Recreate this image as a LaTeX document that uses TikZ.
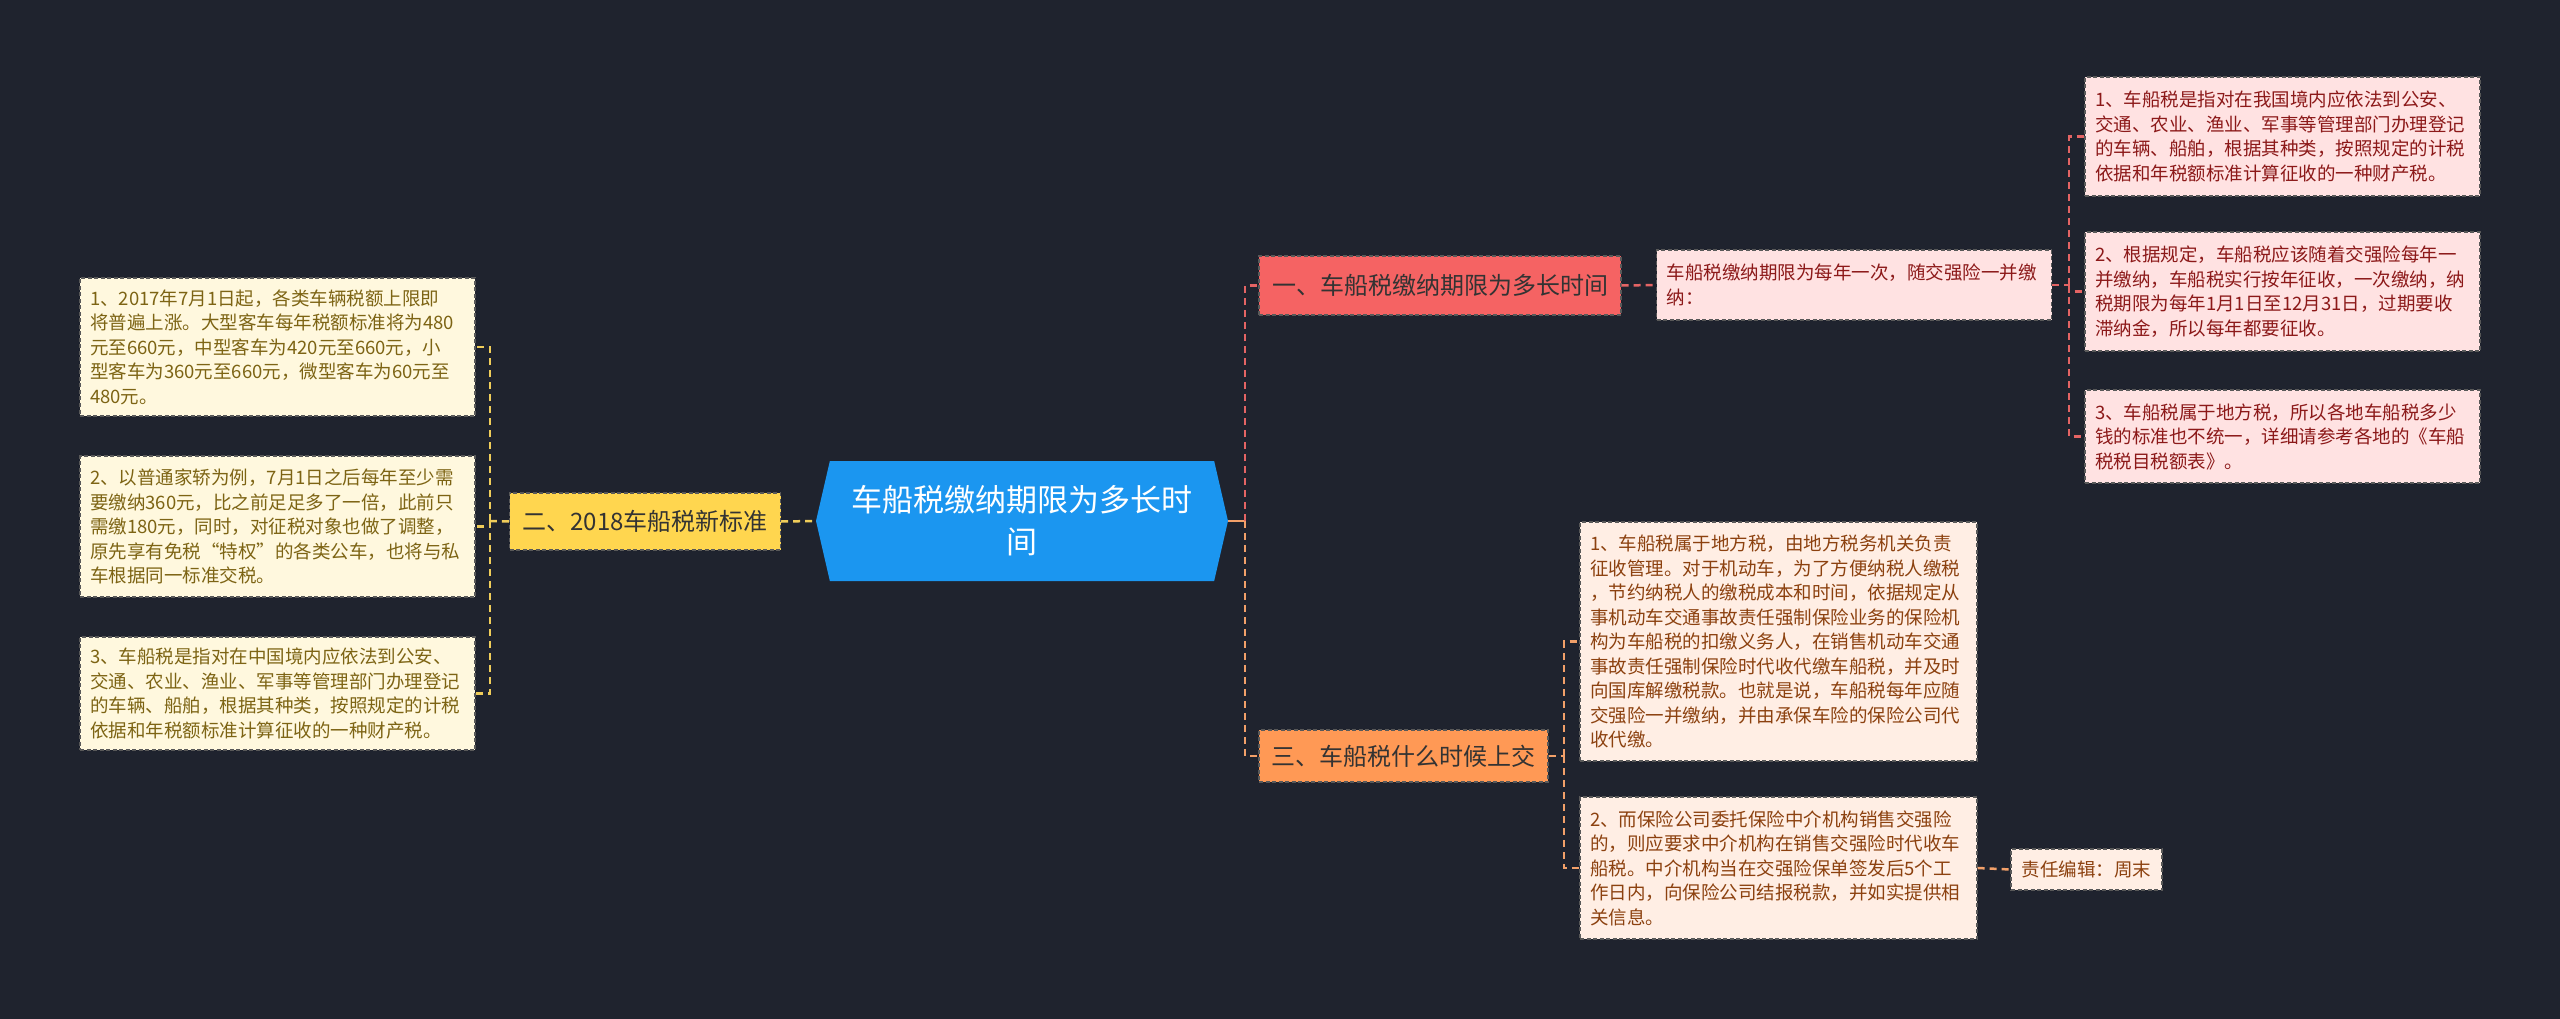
\documentclass[tikz,border=0pt]{standalone}
\usepackage{fontspec}
\setmainfont{Noto Sans CJK SC}
\usepackage{xcolor}
\usepackage{tikz}
\definecolor{bgdark}{RGB}{31,35,46}
\definecolor{centralblue}{RGB}{27,150,240}
\definecolor{topicyellow}{RGB}{255,214,79}
\definecolor{topicred}{RGB}{245,99,99}
\definecolor{topicorange}{RGB}{255,153,85}
\definecolor{leafcream}{RGB}{255,248,222}
\definecolor{leafpink}{RGB}{255,226,226}
\definecolor{leafpeach}{RGB}{255,238,228}
\definecolor{textolive}{RGB}{125,100,20}
\definecolor{textred}{RGB}{140,25,25}
\definecolor{textbrown}{RGB}{140,65,15}
\definecolor{lineyellow}{RGB}{240,205,90}
\definecolor{linered}{RGB}{228,100,100}
\definecolor{lineorange}{RGB}{242,160,105}
\usetikzlibrary{positioning,shapes.symbols}

\begin{document}
\begin{tikzpicture}[
    x=1pt, y=-1pt,
    every node/.style={inner sep=0pt},
    box/.style={draw=black!65, line width=1.2pt, dash pattern=on 4pt off 2.5pt, align=left, inner xsep=10pt, text width=375pt, font=\fontsize{18.5}{24.5}\selectfont},
    cream/.style={box, fill=leafcream, text=textolive},
    pink/.style={box, fill=leafpink, text=textred},
    peach/.style={box, fill=leafpeach, text=textbrown},
    topic/.style={draw=black!65, line width=1.2pt, dash pattern=on 4pt off 2.5pt, align=center, text=black!80, font=\fontsize{24}{30}\selectfont},
    conn/.style={line width=2.5pt, dash pattern=on 7pt off 5pt}
]
    \useasboundingbox[fill=bgdark] (0,0) rectangle (2560,1019);

    % Central node
    \node[signal, signal to=east and west, signal pointer angle=154, fill=centralblue, minimum width=412pt, minimum height=120pt, text=white, align=center, font=\fontsize{31}{42}\selectfont] (main) at (1022,521) {车船税缴纳期限为多长时\\间};

    % Left branch
    \node[topic, fill=topicyellow, minimum width=271pt, minimum height=57pt] (std) at (645,521.5) {二、2018车船税新标准};
    \node[cream, minimum height=138pt] (std1) at (277.5,347) {1、2017年7月1日起，各类车辆税额上限即\\将普遍上涨。大型客车每年税额标准将为480\\元至660元，中型客车为420元至660元，小\\型客车为360元至660元，微型客车为60元至\\480元。};
    \node[cream, minimum height=141pt] (std2) at (277.5,526.5) {2、以普通家轿为例，7月1日之后每年至少需\\要缴纳360元，比之前足足多了一倍，此前只\\需缴180元，同时，对征税对象也做了调整，\\原先享有免税“特权”的各类公车，也将与私\\车根据同一标准交税。};
    \node[cream, minimum height=113pt] (std3) at (277.5,693.5) {3、车船税是指对在中国境内应依法到公安、\\交通、农业、渔业、军事等管理部门办理登记\\的车辆、船舶，根据其种类，按照规定的计税\\依据和年税额标准计算征收的一种财产税。};

    % Right branch: period
    \node[topic, fill=topicred, minimum width=362pt, minimum height=59pt] (term) at (1440,285.5) {一、车船税缴纳期限为多长时间};
    \node[pink, minimum height=70pt] (termtxt) at (1854,285) {车船税缴纳期限为每年一次，随交强险一并缴\\纳：};
    \node[pink, minimum height=119pt] (term1) at (2282.5,136.5) {1、车船税是指对在我国境内应依法到公安、\\交通、农业、渔业、军事等管理部门办理登记\\的车辆、船舶，根据其种类，按照规定的计税\\依据和年税额标准计算征收的一种财产税。};
    \node[pink, minimum height=119pt] (term2) at (2282.5,291.5) {2、根据规定，车船税应该随着交强险每年一\\并缴纳，车船税实行按年征收，一次缴纳，纳\\税期限为每年1月1日至12月31日，过期要收\\滞纳金，所以每年都要征收。};
    \node[pink, minimum height=93pt] (term3) at (2282.5,436.5) {3、车船税属于地方税，所以各地车船税多少\\钱的标准也不统一，详细请参考各地的《车船\\税税目税额表》。};

    % Right branch: when to pay
    \node[topic, fill=topicorange, minimum width=289pt, minimum height=52pt] (when) at (1403.5,756) {三、车船税什么时候上交};
    \node[peach, minimum height=239pt, text width=377pt] (when1) at (1778.5,641.5) {1、车船税属于地方税，由地方税务机关负责\\征收管理。对于机动车，为了方便纳税人缴税\\，节约纳税人的缴税成本和时间，依据规定从\\事机动车交通事故责任强制保险业务的保险机\\构为车船税的扣缴义务人，在销售机动车交通\\事故责任强制保险时代收代缴车船税，并及时\\向国库解缴税款。也就是说，车船税每年应随\\交强险一并缴纳，并由承保车险的保险公司代\\收代缴。};
    \node[peach, minimum height=142pt, text width=377pt] (when2) at (1778.5,868) {2、而保险公司委托保险中介机构销售交强险\\的，则应要求中介机构在销售交强险时代收车\\船税。中介机构当在交强险保单签发后5个工\\作日内，向保险公司结报税款，并如实提供相\\关信息。};
    \node[peach, minimum height=41pt, text width=131pt, align=center] (editor) at (2086.5,869.5) {责任编辑：周末};

    % Junctions
    \coordinate (jl) at (490,521);
    \coordinate (jr) at (1245,521);
    \coordinate (jterm) at (2069,285);
    \coordinate (jwhen) at (1564,756);

    % Connectors
    \draw[conn, lineyellow] (std.east) -- (main.west);
    \draw[conn, lineyellow] (std.west) -- (jl);
    \draw[conn, lineyellow] (jl) |- (std1.east);
    \draw[conn, lineyellow] (jl) |- (std2.east);
    \draw[conn, lineyellow] (jl) |- (std3.east);

    \draw[line width=2.5pt, lineorange] (main.east) -- (jr);
    \draw[conn, linered] (jr) |- (term.west);
    \draw[conn, lineorange] (jr) |- (when.west);

    \draw[conn, linered] (term.east) -- (termtxt.west);
    \draw[conn, linered] (termtxt.east) -- (jterm);
    \draw[conn, linered] (jterm) |- (term1.west);
    \draw[conn, linered] (jterm) |- (term2.west);
    \draw[conn, linered] (jterm) |- (term3.west);

    \draw[conn, lineorange] (when.east) -- (jwhen);
    \draw[conn, lineorange] (jwhen) |- (when1.west);
    \draw[conn, lineorange] (jwhen) |- (when2.west);
    \draw[conn, lineorange] (when2.east) -- (editor.west);
\end{tikzpicture}
\end{document}
